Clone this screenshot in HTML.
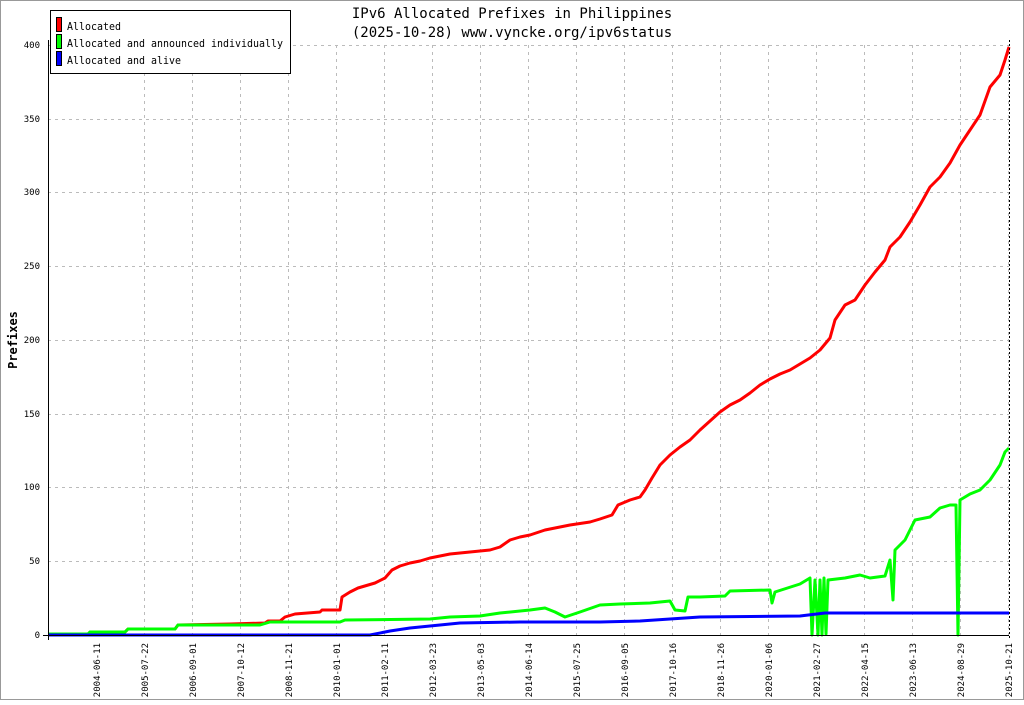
<!DOCTYPE html>
<html><head><style>
body{margin:0;background:#fff;}
svg text{font-family:"DejaVu Sans Mono","Liberation Mono",monospace;}
</style></head><body>
<svg width="1024" height="700" xmlns="http://www.w3.org/2000/svg">
<rect x="0.5" y="0.5" width="1023" height="699" fill="#fff" stroke="#999"/>
<g stroke="#bbb" stroke-dasharray="3,4" stroke-width="1">
<line x1="48" x2="1009" y1="45.5" y2="45.5"/><line x1="48" x2="1009" y1="119.5" y2="119.5"/>
<line x1="48" x2="1009" y1="192.5" y2="192.5"/><line x1="48" x2="1009" y1="266.5" y2="266.5"/>
<line x1="48" x2="1009" y1="340.5" y2="340.5"/><line x1="48" x2="1009" y1="414.5" y2="414.5"/>
<line x1="48" x2="1009" y1="487.5" y2="487.5"/><line x1="48" x2="1009" y1="561.5" y2="561.5"/>
<line x1="144.5" x2="144.5" y1="45" y2="635"/><line x1="192.5" x2="192.5" y1="45" y2="635"/>
<line x1="240.5" x2="240.5" y1="45" y2="635"/><line x1="288.5" x2="288.5" y1="45" y2="635"/>
<line x1="336.5" x2="336.5" y1="45" y2="635"/><line x1="384.5" x2="384.5" y1="45" y2="635"/>
<line x1="432.5" x2="432.5" y1="45" y2="635"/><line x1="480.5" x2="480.5" y1="45" y2="635"/>
<line x1="528.5" x2="528.5" y1="45" y2="635"/><line x1="576.5" x2="576.5" y1="45" y2="635"/>
<line x1="624.5" x2="624.5" y1="45" y2="635"/><line x1="672.5" x2="672.5" y1="45" y2="635"/>
<line x1="720.5" x2="720.5" y1="45" y2="635"/><line x1="768.5" x2="768.5" y1="45" y2="635"/>
<line x1="816.5" x2="816.5" y1="45" y2="635"/><line x1="864.5" x2="864.5" y1="45" y2="635"/>
<line x1="912.5" x2="912.5" y1="45" y2="635"/><line x1="960.5" x2="960.5" y1="45" y2="635"/>
<line x1="1008.5" x2="1008.5" y1="45" y2="635"/>
</g>
<g fill="none" stroke-width="3" stroke-linejoin="round">
<polyline stroke="#f00" points="48,634 88,634 90,632 125,632 128,629 175,629 178,625 230,624 265,623 268,621 280,621 285,617 295,614 320,612 322,610 340,610 342,597 350,592 358,588 375,583 385,578 392,570 400,566 410,563 420,561 430,558 440,556 450,554 470,552 490,550 500,547 510,540 520,537 530,535 545,530 555,528 570,525 590,522 600,519 612,515 618,505 630,500 640,497 645,490 652,478 660,465 670,455 680,447 690,440 700,430 710,421 720,412 730,405 740,400 750,393 760,385 770,379 780,374 790,370 800,364 810,358 820,350 830,338 835,320 845,305 855,300 865,285 875,272 885,260 890,247 900,237 910,222 920,205 930,187 940,177 950,163 960,145 970,130 980,115 990,87 1000,75 1005,60 1009,47"/>
<polyline stroke="#0f0" points="48,634 88,634 90,632 125,632 128,629 175,629 178,625 230,625 260,625 270,622 340,622 345,620 430,619 450,617 480,616 500,613 530,610 545,608 555,612 565,617 580,612 600,605 620,604 650,603 670,601 675,610 685,611 688,597 700,597 725,596 730,591 770,590 772,603 775,592 800,584 810,578 812,635 815,580 818,635 820,580 822,635 824,578 826,634 828,580 845,578 860,575 870,578 885,576 890,560 893,600 895,550 905,540 915,520 930,517 940,508 950,505 956,505 958,635 960,500 970,494 980,490 990,480 1000,465 1005,452 1009,448"/>
<polyline stroke="#00f" points="48,635 370,635 390,631 410,628 440,625 460,623 520,622 600,622 640,621 670,619 700,617 800,616 825,613 1009,613"/>
</g>
<g stroke="#000" stroke-width="1">
<line x1="48.5" y1="40" x2="48.5" y2="640"/>
<line x1="43" y1="635.5" x2="1009" y2="635.5"/>
<line x1="1009.5" y1="40" x2="1009.5" y2="640" stroke-dasharray="2,2"/>
</g>
<g font-size="9" text-anchor="end" fill="#000">
<text x="40" y="48">400</text><text x="40" y="122">350</text><text x="40" y="195">300</text>
<text x="40" y="269">250</text><text x="40" y="343">200</text><text x="40" y="417">150</text>
<text x="40" y="490">100</text><text x="40" y="564">50</text><text x="40" y="638">0</text>
</g>
<g font-size="9" fill="#000" text-anchor="end">
<text transform="translate(100,643) rotate(-90)">2004-06-11</text>
<text transform="translate(148,643) rotate(-90)">2005-07-22</text>
<text transform="translate(196,643) rotate(-90)">2006-09-01</text>
<text transform="translate(244,643) rotate(-90)">2007-10-12</text>
<text transform="translate(292,643) rotate(-90)">2008-11-21</text>
<text transform="translate(340,643) rotate(-90)">2010-01-01</text>
<text transform="translate(388,643) rotate(-90)">2011-02-11</text>
<text transform="translate(436,643) rotate(-90)">2012-03-23</text>
<text transform="translate(484,643) rotate(-90)">2013-05-03</text>
<text transform="translate(532,643) rotate(-90)">2014-06-14</text>
<text transform="translate(580,643) rotate(-90)">2015-07-25</text>
<text transform="translate(628,643) rotate(-90)">2016-09-05</text>
<text transform="translate(676,643) rotate(-90)">2017-10-16</text>
<text transform="translate(724,643) rotate(-90)">2018-11-26</text>
<text transform="translate(772,643) rotate(-90)">2020-01-06</text>
<text transform="translate(820,643) rotate(-90)">2021-02-27</text>
<text transform="translate(868,643) rotate(-90)">2022-04-15</text>
<text transform="translate(916,643) rotate(-90)">2023-06-13</text>
<text transform="translate(964,643) rotate(-90)">2024-08-29</text>
<text transform="translate(1012,643) rotate(-90)">2025-10-21</text>
</g>
<text transform="translate(17,340) rotate(-90)" font-size="12" font-weight="bold" text-anchor="middle">Prefixes</text>
<text x="512" y="18" font-size="14" text-anchor="middle">IPv6 Allocated Prefixes in Philippines</text>
<text x="512" y="37" font-size="14" text-anchor="middle">(2025-10-28) www.vyncke.org/ipv6status</text>
<rect x="50.5" y="10.5" width="240" height="63" fill="#fff" stroke="#000"/>
<rect x="56.5" y="17.5" width="5" height="14" fill="#f00" stroke="#000"/>
<rect x="56.5" y="34.5" width="5" height="14" fill="#0f0" stroke="#000"/>
<rect x="56.5" y="51.5" width="5" height="14" fill="#00f" stroke="#000"/>
<g font-size="11">
<text x="67" y="30" textLength="54" lengthAdjust="spacingAndGlyphs">Allocated</text>
<text x="67" y="47" textLength="216" lengthAdjust="spacingAndGlyphs">Allocated and announced individually</text>
<text x="67" y="64" textLength="114" lengthAdjust="spacingAndGlyphs">Allocated and alive</text>
</g>
</svg>
</body></html>
